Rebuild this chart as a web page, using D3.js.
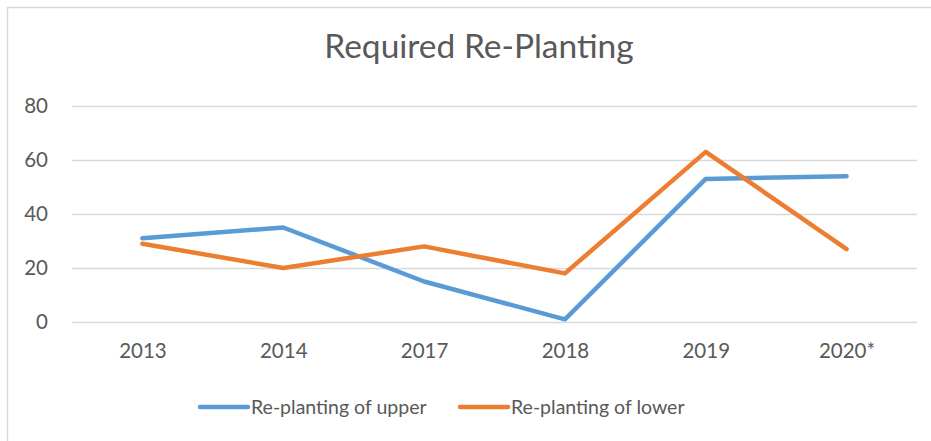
<!DOCTYPE html>
<html>
<head>
<meta charset="utf-8">
<script src="https://cdn.jsdelivr.net/npm/d3@7"></script>
<style>
  body { margin: 0; background: #fff; }
  svg { display: block; }
</style>
</head>
<body>
<div id="chart"></div>
<script>
const years = ["2013", "2014", "2017", "2018", "2019", "2020*"];
const upper = [31, 35, 15, 1, 53, 54];
const lower = [29, 20, 28, 18, 63, 27];
const yTicks = [0, 20, 40, 60, 80];
const seriesNames = ["Re-planting of upper", "Re-planting of lower"];
const colors = ["#5B9BD5", "#ED7D31"];

const width = 931, height = 441;
const margin = {top: 106, right: 14, bottom: 119, left: 72};
const innerW = width - margin.left - margin.right;
const innerH = height - margin.top - margin.bottom;
const font = "Lato, 'Open Sans', sans-serif";

const svg = d3.select("#chart").append("svg")
    .attr("width", width)
    .attr("height", height)
    .style("font-family", font);

// chart area frame (runs off the right and bottom edge)
svg.append("rect")
    .attr("x", 7.5).attr("y", 7.5)
    .attr("width", 960).attr("height", 460)
    .attr("fill", "none")
    .attr("stroke", "#d9d9d9")
    .attr("stroke-width", 1.5);

svg.append("text")
    .attr("x", 479).attr("y", 58)
    .attr("text-anchor", "middle")
    .attr("font-size", 33.5)
    .attr("fill", "#595959")
    .text("Required Re-Planting");

const chart = svg.append("g")
    .attr("transform", `translate(${margin.left},${margin.top})`);

const x = d3.scalePoint().domain(years).range([0, innerW]).padding(0.5);
const y = d3.scaleLinear().domain([0, 80]).range([innerH, 0]);

// gridlines + y labels
const yAxis = chart.append("g")
    .call(d3.axisLeft(y).tickValues(yTicks).tickSize(-innerW).tickPadding(24));
yAxis.select(".domain").remove();
yAxis.selectAll(".tick line").attr("stroke", "#d9d9d9").attr("stroke-width", 1.3);
yAxis.selectAll(".tick text")
    .attr("fill", "#595959")
    .attr("font-size", 20.5)
    .style("font-family", font);

// x labels
const xAxis = chart.append("g")
    .attr("transform", `translate(0,${innerH})`)
    .call(d3.axisBottom(x).tickSize(0).tickPadding(21));
xAxis.select(".domain").remove();
xAxis.selectAll(".tick text")
    .attr("fill", "#595959")
    .attr("font-size", 20.5)
    .style("font-family", font);

const line = d3.line()
    .x((d, i) => x(years[i]))
    .y(d => y(d));

[upper, lower].forEach((vals, i) => {
    chart.append("path")
        .datum(vals)
        .attr("d", line)
        .attr("fill", "none")
        .attr("stroke", colors[i])
        .attr("stroke-width", 4.5)
        .attr("stroke-linejoin", "round")
        .attr("stroke-linecap", "round");
});

// legend
const legendX = [200, 460];
const legend = svg.append("g");
seriesNames.forEach((name, i) => {
    const g = legend.append("g").attr("transform", `translate(${legendX[i]},407)`);
    g.append("line")
        .attr("x1", 0).attr("x2", 48)
        .attr("stroke", colors[i])
        .attr("stroke-width", 4.5)
        .attr("stroke-linecap", "round");
    g.append("text")
        .attr("x", 51).attr("y", 7)
        .attr("font-size", 19.5)
        .attr("fill", "#595959")
        .text(name);
});
</script>
</body>
</html>
